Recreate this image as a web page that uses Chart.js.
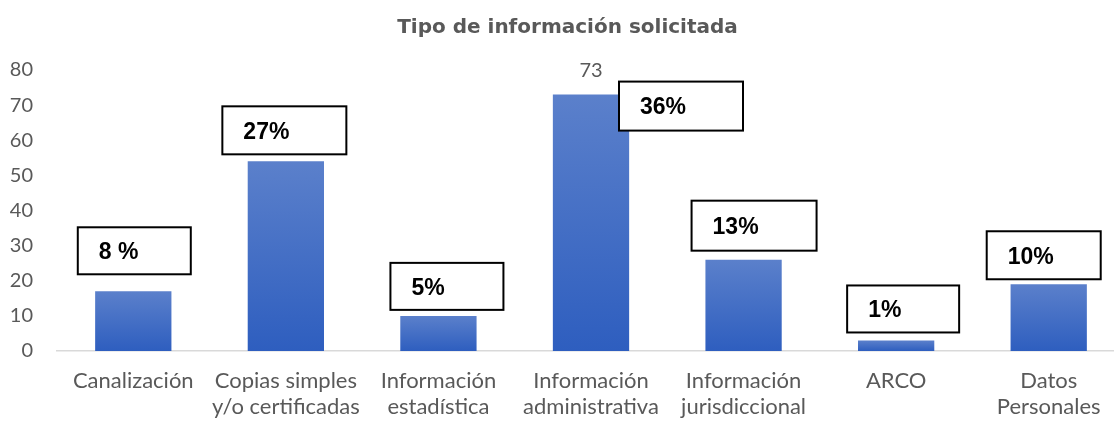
<!DOCTYPE html>
<html>
<head>
<meta charset="utf-8">
<script src="https://cdn.jsdelivr.net/npm/chart.js@4/dist/chart.umd.min.js"></script>
<style>
  html, body { margin: 0; padding: 0; background: #ffffff; overflow: hidden; }
  #wrap { position: relative; width: 1146px; height: 422px; }
</style>
</head>
<body>
<div id="wrap"><canvas id="c"></canvas></div>
<script>
// ---- data ----
const categories = [
  ['Canalización'],
  ['Copias simples', 'y/o certificadas'],
  ['Información', 'estadística'],
  ['Información', 'administrativa'],
  ['Información', 'jurisdiccional'],
  ['ARCO'],
  ['Datos', 'Personales']
];
const requests = [17, 54, 10, 73, 26, 3, 19];
const percentLabels = ['8 %', '27%', '5%', '36%', '13%', '1%', '10%'];
const valueLabelShown = [false, false, false, true, false, false, false];
const yTicks = [0, 10, 20, 30, 40, 50, 60, 70, 80];
const chartTitle = 'Tipo de información solicitada';

// ---- styles (box placement relative to each bar's centre / top, in px) ----
const boxLayout = [
  { dx: -55.5, dy: -64, w: 113, h: 47 },
  { dx: -63.5, dy: -55, w: 124, h: 48 },
  { dx: -48,   dy: -53, w: 113, h: 47 },
  { dx: 28,    dy: -13, w: 124, h: 49 },
  { dx: -52,   dy: -59, w: 125, h: 50 },
  { dx: -49,   dy: -55, w: 112, h: 47 },
  { dx: -62,   dy: -53, w: 114, h: 48 }
];
const GREY = '#595959';

const annotationPlugin = {
  id: 'pctBoxes',
  afterDatasetsDraw(chart) {
    const ctx = chart.ctx;
    const meta = chart.getDatasetMeta(0);
    ctx.save();
    meta.data.forEach((bar, i) => {
      const L = boxLayout[i];
      const left = bar.x + L.dx;
      const top = bar.y + L.dy;
      ctx.fillStyle = '#ffffff';
      ctx.fillRect(left, top, L.w, L.h);
      ctx.lineWidth = 2;
      ctx.strokeStyle = '#000000';
      ctx.strokeRect(left, top, L.w, L.h);
      ctx.fillStyle = '#000000';
      ctx.font = 'bold 23px "Liberation Sans", Arial, sans-serif';
      ctx.textAlign = 'left';
      ctx.textBaseline = 'middle';
      ctx.fillText(percentLabels[i], left + 21, top + L.h / 2 + 2);
      if (valueLabelShown[i]) {
        ctx.fillStyle = GREY;
        ctx.font = '20px Lato, sans-serif';
        ctx.textAlign = 'center';
        ctx.fillText(String(requests[i]), bar.x, bar.y - 24);
      }
    });
    ctx.restore();
  }
};

function barGradient(context) {
  const chart = context.chart;
  const area = chart.chartArea;
  if (!area || context.type !== 'data') return '#4a74c6';
  const y = chart.scales.y;
  const top = y.getPixelForValue(context.raw);
  const bot = y.getPixelForValue(0);
  if (!isFinite(top) || !isFinite(bot) || bot - top < 1) return '#4a74c6';
  const g = chart.ctx.createLinearGradient(0, top, 0, bot);
  g.addColorStop(0, '#5b80cb');
  g.addColorStop(1, '#2e5ebf');
  return g;
}

new Chart(document.getElementById('c'), {
  type: 'bar',
  data: {
    labels: categories,
    datasets: [{
      data: requests,
      backgroundColor: barGradient,
      borderWidth: 0,
      categoryPercentage: 1.0,
      barPercentage: 0.5
    }]
  },
  plugins: [annotationPlugin],
  options: {
    responsive: true,
    maintainAspectRatio: false,
    animation: false,
    layout: { padding: { left: 10, right: 21, top: 0, bottom: 1 } },
    plugins: {
      legend: { display: false },
      tooltip: { enabled: false },
      title: {
        display: true,
        text: chartTitle,
        color: GREY,
        font: { family: '"DejaVu Sans", sans-serif', size: 20, weight: 'bold', lineHeight: 1.2 },
        padding: { top: 16, bottom: 30 }
      }
    },
    scales: {
      x: {
        grid: { display: false, drawTicks: false },
        border: { display: true, color: '#d9d9d9', width: 1.5 },
        afterFit(scale) { scale.height = 70; },
        ticks: {
          color: GREY,
          font: { family: 'Lato, sans-serif', size: 22, lineHeight: 1.18 },
          padding: 17,
          maxRotation: 0,
          autoSkip: false
        }
      },
      y: {
        min: yTicks[0],
        max: yTicks[yTicks.length - 1],
        afterBuildTicks(scale) { scale.ticks = yTicks.map(v => ({ value: v })); },
        afterFit(scale) { scale.width = 47; },
        grid: { display: false, drawTicks: false },
        border: { display: false },
        ticks: {
          color: GREY,
          font: { family: 'Lato, sans-serif', size: 20 },
          padding: 24
        }
      }
    }
  }
});
</script>
</body>
</html>
